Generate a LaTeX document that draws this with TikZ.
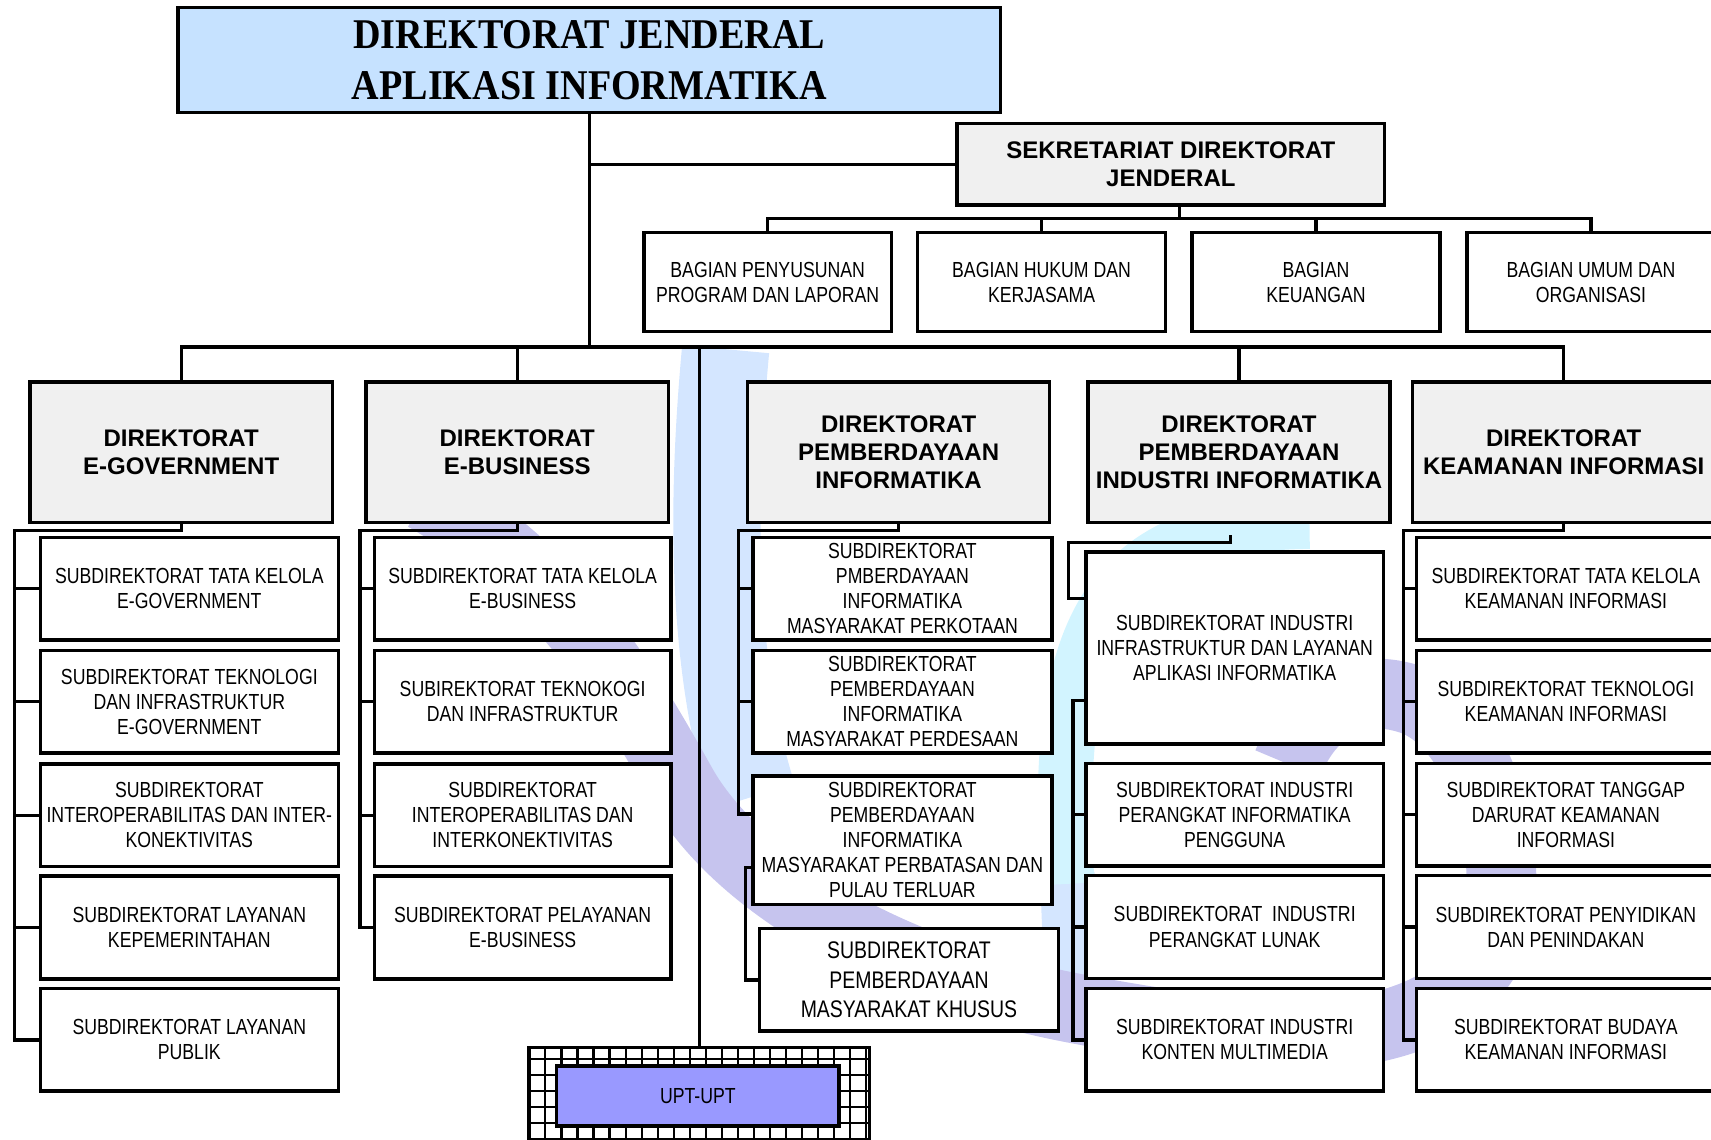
\documentclass[tikz,border=0pt]{standalone}
\usepackage{fontspec}
\setmainfont{Liberation Sans}
\newfontfamily\sempit[FakeStretch=0.81]{Liberation Sans}
\newfontfamily\judul[FakeStretch=0.9]{Liberation Serif}
\usetikzlibrary{positioning,calc}

\definecolor{birumuda}{RGB}{198,226,255}
\definecolor{abu}{RGB}{240,240,240}
\definecolor{ungu}{RGB}{153,153,255}
\definecolor{wmbiru}{RGB}{212,230,255}
\definecolor{wmungu}{RGB}{198,196,238}
\definecolor{wmcyan}{RGB}{210,244,255}

\tikzset{
    kotak/.style={draw, line width=1.6pt, fill=white, align=center, inner sep=0pt},
    subdir/.style={kotak, minimum width=137pt, minimum height=47pt, font=\sempit\fontsize{10pt}{11.5pt}\selectfont},
    direk/.style={kotak, fill=abu, minimum width=138.5pt, minimum height=64.5pt, font=\bfseries\fontsize{11pt}{13pt}\selectfont},
    garis/.style={line width=1.5pt},
}

\begin{document}
\begin{tikzpicture}[x=0.5pt,y=-0.5pt]
    \useasboundingbox (0,0) rectangle (1568,1044);

    % logo di latar
    \draw[wmbiru, line width=40pt] (665,320) .. controls (650,480) and (655,620) .. (690,730);
    \draw[wmbiru, line width=25pt] (978,800) -- (982,900);
    \draw[wmcyan, line width=25pt] (1200,478) .. controls (1010,480) and (965,580) .. (978,810);
    \draw[wmungu, line width=32pt] (390,455) .. controls (520,530) and (580,640) .. (625,720) .. controls (670,800) and (800,890) .. (990,925) .. controls (1150,955) and (1300,970) .. (1360,880) .. controls (1400,800) and (1360,660) .. (1290,640) .. controls (1240,625) and (1200,650) .. (1180,700);

    \node[kotak, fill=birumuda, minimum width=377pt, minimum height=48pt, font=\judul\bfseries\fontsize{19.4pt}{23.5pt}\selectfont] (dirjen) at (540,55) {DIREKTORAT JENDERAL\\APLIKASI INFORMATIKA};
    \node[kotak, fill=abu, minimum width=196pt, minimum height=37.5pt, font=\bfseries\fontsize{11pt}{13pt}\selectfont] (sekre) at (1073,150.5) {SEKRETARIAT DIREKTORAT\\JENDERAL};

    \node[subdir, minimum width=113.5pt, minimum height=45.5pt] (bag1) at (703.5,258.5) {BAGIAN PENYUSUNAN\\PROGRAM DAN LAPORAN};
    \node[subdir, minimum width=113.5pt, minimum height=45.5pt] (bag2) at (954.5,258.5) {BAGIAN HUKUM DAN\\KERJASAMA};
    \node[subdir, minimum width=113.5pt, minimum height=45.5pt] (bag3) at (1206,258.5) {BAGIAN\\KEUANGAN};
    \node[subdir, minimum width=113.5pt, minimum height=45.5pt] (bag4) at (1458,258.5) {BAGIAN UMUM DAN\\ORGANISASI};

    \node[direk] (egov) at (166,414.5) {DIREKTORAT\\E-GOVERNMENT};
    \node[direk] (ebis) at (474,414.5) {DIREKTORAT\\E-BUSINESS};
    \node[direk] (pi) at (823.5,414.5) {DIREKTORAT\\PEMBERDAYAAN\\INFORMATIKA};
    \node[direk] (pii) at (1135.5,414.5) {DIREKTORAT\\PEMBERDAYAAN\\INDUSTRI INFORMATIKA};
    \node[direk] (ki) at (1433,414.5) {DIREKTORAT\\KEAMANAN INFORMASI};

    \node[subdir, minimum width=136.5pt] (egov1) at (173.5,539.5) {SUBDIREKTORAT TATA KELOLA\\E-GOVERNMENT};
    \node[subdir, minimum width=136.5pt] (egov2) at (173.5,643) {SUBDIREKTORAT TEKNOLOGI\\DAN INFRASTRUKTUR\\E-GOVERNMENT};
    \node[subdir, minimum width=136.5pt] (egov3) at (173.5,747) {SUBDIREKTORAT\\INTEROPERABILITAS DAN INTER-\\KONEKTIVITAS};
    \node[subdir, minimum width=136.5pt] (egov4) at (173.5,850) {SUBDIREKTORAT LAYANAN\\KEPEMERINTAHAN};
    \node[subdir, minimum width=136.5pt] (egov5) at (173.5,953) {SUBDIREKTORAT LAYANAN\\PUBLIK};

    \node[subdir, minimum width=136pt] (ebis1) at (479,539.5) {SUBDIREKTORAT TATA KELOLA\\E-BUSINESS};
    \node[subdir, minimum width=136pt] (ebis2) at (479,643) {SUBIREKTORAT TEKNOKOGI\\DAN INFRASTRUKTUR};
    \node[subdir, minimum width=136pt] (ebis3) at (479,747) {SUBDIREKTORAT\\INTEROPERABILITAS DAN\\INTERKONEKTIVITAS};
    \node[subdir, minimum width=136pt] (ebis4) at (479,850) {SUBDIREKTORAT PELAYANAN\\E-BUSINESS};

    \node[subdir] (pi1) at (827,539.5) {SUBDIREKTORAT\\PMBERDAYAAN\\INFORMATIKA\\MASYARAKAT PERKOTAAN};
    \node[subdir] (pi2) at (827,643) {SUBDIREKTORAT\\PEMBERDAYAAN\\INFORMATIKA\\MASYARAKAT PERDESAAN};
    \node[subdir, minimum height=59pt] (pi3) at (827,770) {SUBDIREKTORAT\\PEMBERDAYAAN\\INFORMATIKA\\MASYARAKAT PERBATASAN DAN\\PULAU TERLUAR};
    \node[subdir, font=\sempit\fontsize{11pt}{13.5pt}\selectfont] (pi4) at (833,898) {SUBDIREKTORAT\\PEMBERDAYAAN\\MASYARAKAT KHUSUS};

    \node[subdir, minimum width=136.5pt, minimum height=88pt] (pii1) at (1131.5,594) {SUBDIREKTORAT INDUSTRI\\INFRASTRUKTUR DAN LAYANAN\\APLIKASI INFORMATIKA};
    \node[subdir, minimum width=136.5pt] (pii2) at (1131.5,746.5) {SUBDIREKTORAT INDUSTRI\\PERANGKAT INFORMATIKA\\PENGGUNA};
    \node[subdir, minimum width=136.5pt] (pii3) at (1131.5,849.5) {SUBDIREKTORAT \ INDUSTRI\\PERANGKAT LUNAK};
    \node[subdir, minimum width=136.5pt] (pii4) at (1131.5,953) {SUBDIREKTORAT INDUSTRI\\KONTEN MULTIMEDIA};

    \node[subdir] (ki1) at (1435,539.5) {SUBDIREKTORAT TATA KELOLA\\KEAMANAN INFORMASI};
    \node[subdir] (ki2) at (1435,643) {SUBDIREKTORAT TEKNOLOGI\\KEAMANAN INFORMASI};
    \node[subdir] (ki3) at (1435,746.5) {SUBDIREKTORAT TANGGAP\\DARURAT KEAMANAN\\INFORMASI};
    \node[subdir] (ki4) at (1435,849.5) {SUBDIREKTORAT PENYIDIKAN\\DAN PENINDAKAN};
    \node[subdir] (ki5) at (1435,953) {SUBDIREKTORAT BUDAYA\\KEAMANAN INFORMASI};

    % UPT dengan latar kotak-kotak
    \node[draw, line width=1.6pt, fill=white, minimum width=156pt, minimum height=50pt, inner sep=0pt] (upt) at (641,1010) {};
    \draw[line width=1pt] (upt.south west) grid[step=7.35pt] (upt.north east);
    \node[kotak, fill=ungu, minimum width=129.5pt, minimum height=27.5pt, font=\sempit\fontsize{10pt}{11.5pt}\selectfont] (uptin) at (639.5,1004.5) {UPT-UPT};

    % garis
    \coordinate (bus) at (540,318);
    \coordinate (busbag) at (1081,200);
    \draw[garis] (dirjen.south) -- (bus);
    \draw[garis] (dirjen.south |- sekre.west) -- (sekre.west);
    \draw[garis] (egov.north) |- (bus) -| (ki.north);
    \draw[garis] (ebis.north) -- (ebis.north |- bus);
    \draw[garis] (pii.north) -- (pii.north |- bus);
    \draw[garis] (bus -| upt.north) -- (upt.north);

    \draw[garis] (sekre.south -| busbag) -- (busbag);
    \draw[garis] (bag1.north) |- (busbag) -| (bag4.north);
    \foreach \b in {bag2,bag3}
        \draw[garis] (\b.north) -- (\b.north |- busbag);

    \foreach \i in {1,...,5}
        \draw[garis] (egov.south) |- (13,486) |- (egov\i.west);
    \foreach \i in {1,...,4}
        \draw[garis] (ebis.south) |- (330,486) |- (ebis\i.west);
    \foreach \i in {1,2}
        \draw[garis] (pi.south) |- (677,486) |- (pi\i.west);
    \draw[garis] (pi.south) |- (677,486) |- ([yshift=12pt]pi3.west);
    \draw[garis] ([yshift=-12.5pt]pi3.west) -- ++(-5,0) |- (pi4.west);
    \draw[garis] ([xshift=-4pt,yshift=-5pt]pii.south) |- (979,497) |- ([yshift=22.75pt]pii1.west);
    \foreach \i in {2,3,4}
        \draw[garis] ([yshift=-24pt]pii1.west) -- ++(-10,0) |- (pii\i.west);
    \foreach \i in {1,...,5}
        \draw[garis] (ki.south) |- (1286,486) |- (ki\i.west);
\end{tikzpicture}
\end{document}
